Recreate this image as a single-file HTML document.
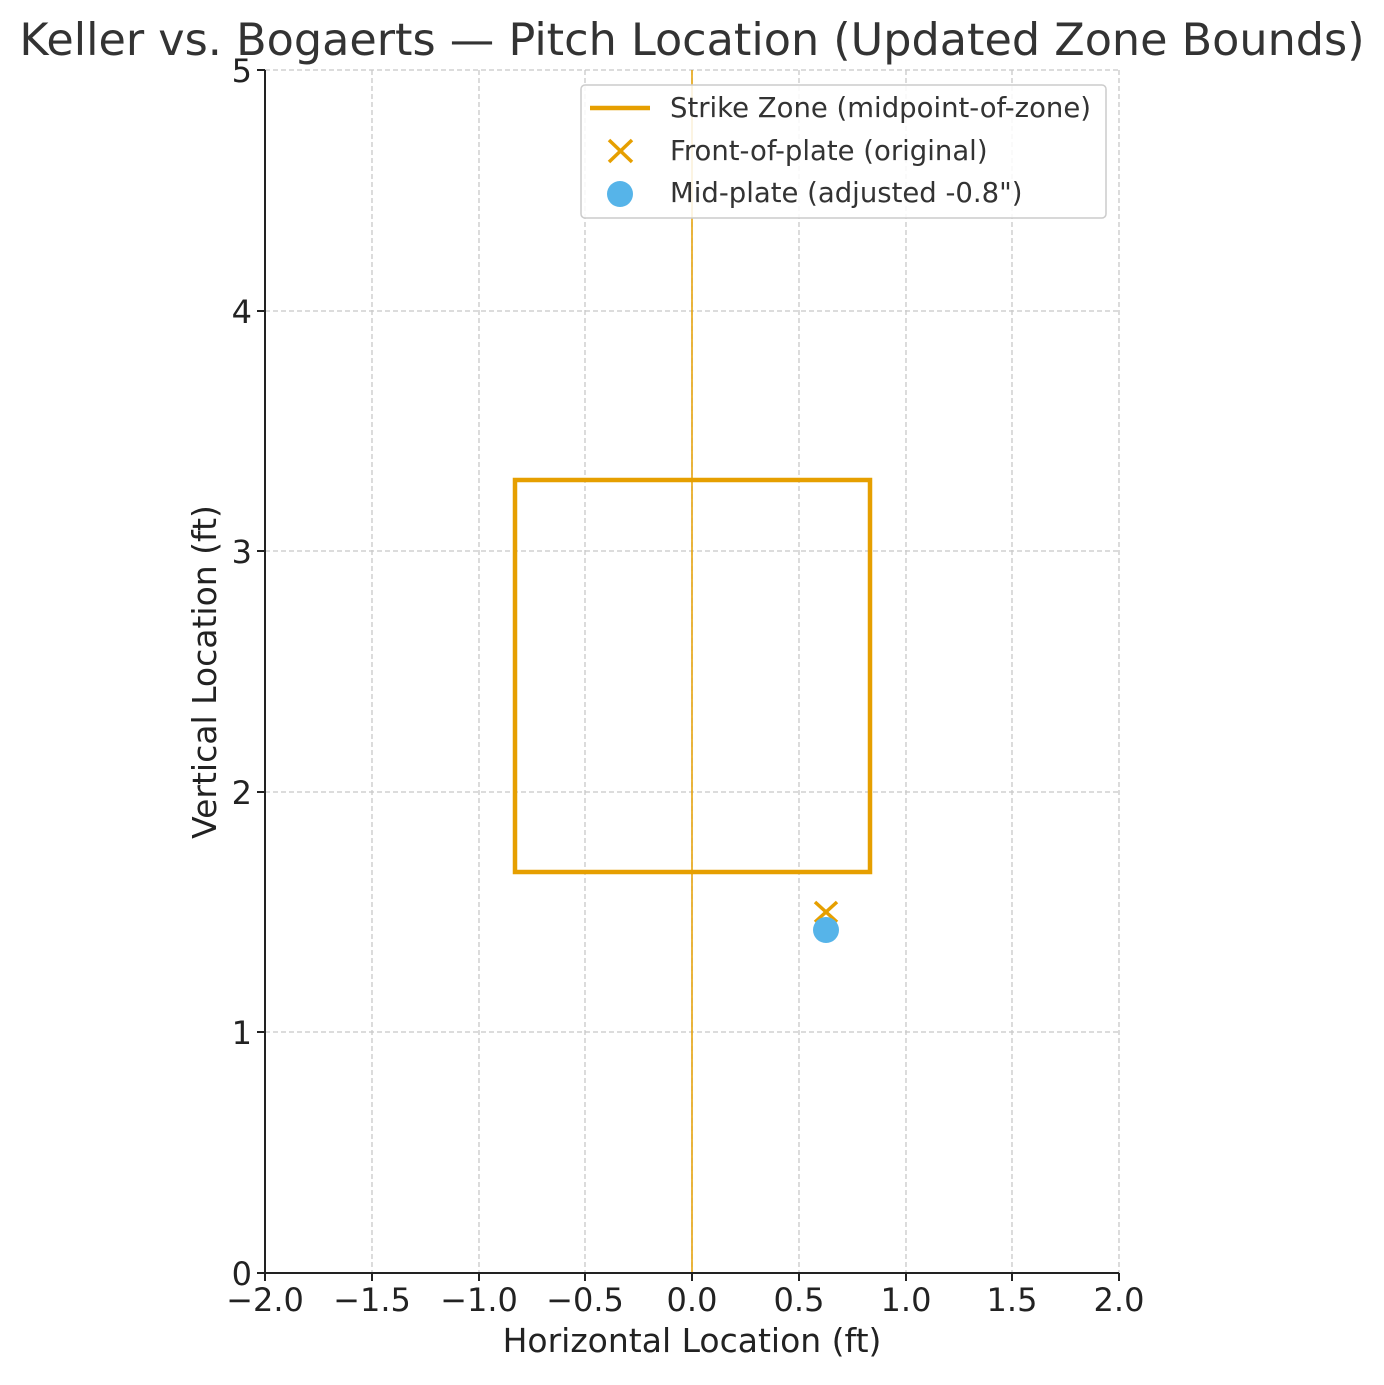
<!DOCTYPE html>
<html><head><meta charset="utf-8"><style>body{margin:0;background:#fff}</style></head><body>
<svg width="1384" height="1380" xmlns="http://www.w3.org/2000/svg" font-family="DejaVu Sans, Liberation Sans, sans-serif">
<rect width="1384" height="1380" fill="#fff"/>
<text x="692" y="55" font-size="44.5" fill="#333" text-anchor="middle">Keller vs. Bogaerts — Pitch Location (Updated Zone Bounds)</text>
<g stroke="#c8c8c8" stroke-width="1.3" stroke-dasharray="5,3">
<line x1="372" y1="70" x2="372" y2="1273"/><line x1="479" y1="70" x2="479" y2="1273"/>
<line x1="585" y1="70" x2="585" y2="1273"/><line x1="692" y1="70" x2="692" y2="1273"/>
<line x1="799" y1="70" x2="799" y2="1273"/><line x1="906" y1="70" x2="906" y2="1273"/>
<line x1="1012" y1="70" x2="1012" y2="1273"/><line x1="1119" y1="70" x2="1119" y2="1273"/>
<line x1="265" y1="70" x2="1119" y2="70"/><line x1="265" y1="311" x2="1119" y2="311"/>
<line x1="265" y1="551" x2="1119" y2="551"/><line x1="265" y1="792" x2="1119" y2="792"/>
<line x1="265" y1="1032" x2="1119" y2="1032"/>
</g>
<line x1="692" y1="70" x2="692" y2="1273" stroke="#E69F00" stroke-width="1.5"/>
<rect x="515" y="480" width="355" height="392" fill="none" stroke="#E69F00" stroke-width="4.5"/>
<g stroke="#E69F00" stroke-width="3.5"><line x1="815" y1="902" x2="837" y2="922"/><line x1="837" y1="902" x2="815" y2="922"/></g>
<circle cx="826" cy="930" r="13" fill="#56B4E9"/>
<g stroke="#222" stroke-width="2"><line x1="265" y1="70" x2="265" y2="1274"/><line x1="264" y1="1273" x2="1119" y2="1273"/></g>
<g stroke="#222" stroke-width="2">
<line x1="265" y1="1273" x2="265" y2="1281"/><line x1="372" y1="1273" x2="372" y2="1281"/><line x1="479" y1="1273" x2="479" y2="1281"/><line x1="585" y1="1273" x2="585" y2="1281"/><line x1="692" y1="1273" x2="692" y2="1281"/><line x1="799" y1="1273" x2="799" y2="1281"/><line x1="906" y1="1273" x2="906" y2="1281"/><line x1="1012" y1="1273" x2="1012" y2="1281"/><line x1="1119" y1="1273" x2="1119" y2="1281"/>
<line x1="257" y1="70" x2="265" y2="70"/><line x1="257" y1="311" x2="265" y2="311"/><line x1="257" y1="551" x2="265" y2="551"/><line x1="257" y1="792" x2="265" y2="792"/><line x1="257" y1="1032" x2="265" y2="1032"/><line x1="257" y1="1273" x2="265" y2="1273"/>
</g>
<g font-size="32" fill="#222" text-anchor="middle">
<text x="265" y="1311">−2.0</text><text x="372" y="1311">−1.5</text><text x="479" y="1311">−1.0</text><text x="585" y="1311">−0.5</text><text x="692" y="1311">0.0</text><text x="799" y="1311">0.5</text><text x="906" y="1311">1.0</text><text x="1012" y="1311">1.5</text><text x="1119" y="1311">2.0</text>
</g>
<g font-size="32" fill="#222" text-anchor="end">
<text x="252" y="82">5</text><text x="252" y="323">4</text><text x="252" y="563">3</text><text x="252" y="804">2</text><text x="252" y="1044">1</text><text x="252" y="1285">0</text>
</g>
<text x="692" y="1352" font-size="33" fill="#222" text-anchor="middle">Horizontal Location (ft)</text>
<text transform="translate(216,672) rotate(-90)" font-size="33" fill="#222" text-anchor="middle">Vertical Location (ft)</text>
<rect x="581" y="85" width="525" height="133" rx="4" fill="#fff" fill-opacity="0.85" stroke="#ccc" stroke-width="1.5"/>
<line x1="590" y1="108" x2="650" y2="108" stroke="#E69F00" stroke-width="4.5"/>
<g stroke="#E69F00" stroke-width="3.5"><line x1="609" y1="140" x2="632" y2="162"/><line x1="632" y1="140" x2="609" y2="162"/></g>
<circle cx="620" cy="194" r="13" fill="#56B4E9"/>
<g font-size="27.5" fill="#333">
<text x="670" y="117">Strike Zone (midpoint-of-zone)</text>
<text x="670" y="160">Front-of-plate (original)</text>
<text x="670" y="202">Mid-plate (adjusted -0.8")</text>
</g>
</svg>
</body></html>
